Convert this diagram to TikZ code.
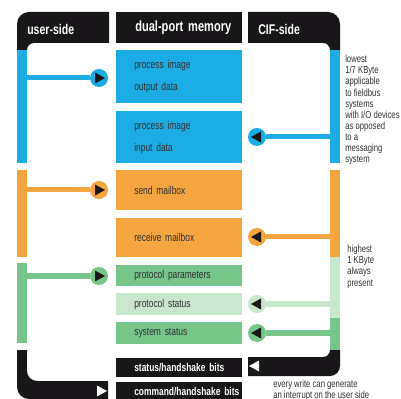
\documentclass[tikz,border=0pt]{standalone}
\usepackage{fontspec}
\setmainfont{Liberation Sans}[FakeStretch=0.75]
\usetikzlibrary{positioning}
\definecolor{dpmblue}{RGB}{28,172,228}
\definecolor{dpmorange}{RGB}{245,165,64}
\definecolor{dpmgreen}{RGB}{118,198,138}
\definecolor{dpmlight}{RGB}{200,232,205}
\definecolor{dpmblack}{RGB}{24,22,24}
\definecolor{dpmtext}{RGB}{50,48,50}

\begin{document}
\begin{tikzpicture}[
        x=0.025cm, y=-0.025cm,
        mem/.style={rectangle, anchor=north west, text width=3.15cm, inner xsep=0pt, inner ysep=0pt, align=left, execute at begin node={\leftskip=0.45cm}, font=\fontsize{8}{15.6}\selectfont, text=dpmtext},
        bits/.style={mem, fill=dpmblack, text=white, font=\fontsize{8}{10}\selectfont\bfseries, execute at begin node={\leftskip=0.45cm\rightskip=-1cm plus 1fil}},
        head/.style={font=\fontsize{10}{12}\selectfont\bfseries, text=white, inner sep=0pt, anchor=west},
        bar/.style={rectangle, minimum width=0.25cm, inner sep=0pt, anchor=north},
        port/.style={circle, minimum size=0.45cm, inner sep=0pt},
        link/.style={line width=0.125cm},
        note/.style={align=left, font=\fontsize{7.3}{7.9}\selectfont, inner sep=0pt, anchor=north west, text=dpmtext},
        tipright/.style={insert path={++(-4,-5.5) -- ++(10,5.5) -- ++(-10,5.5) -- cycle}},
        tipleft/.style={insert path={++(4,-5.5) -- ++(-10,5.5) -- ++(10,5.5) -- cycle}}
    ]
        \useasboundingbox (0,0) rectangle (401,399);

        % Headers
        \fill[dpmblack] (17,50) -- (17,24) arc[start angle=180, end angle=90, radius=0.3cm] -- (109,12) -- (109,43) -- (34,43) arc[start angle=90, end angle=180, radius=0.175cm] -- cycle;
        \fill[dpmblack] (248,12) -- (328,12) arc[start angle=90, end angle=0, radius=0.3cm] -- (340,50) -- (330,50) arc[start angle=0, end angle=90, radius=0.175cm] -- (248,43) -- cycle;
        \node[head] (huser) at (27,29) {user-side};
        \node[mem, head, fill=dpmblack, anchor=north west, text width=3.15cm, inner xsep=0pt, minimum height=0.775cm, font=\fontsize{10.5}{12}\selectfont\bfseries, execute at begin node={\leftskip=0.475cm}] (hmem) at (116,12) {dual-port memory};
        \node[head] (hcif) at (258,29) {CIF-side};

        % Memory Areas
        \node[mem, fill=dpmblue, minimum height=1.325cm] (pio) at (116,50) {process image\\output data};
        \node[mem, fill=dpmblue, minimum height=1.3cm] (pii) at (116,111) {process image\\input data};
        \node[mem, fill=dpmorange, minimum height=1.0cm] (send) at (116,170) {send mailbox};
        \node[mem, fill=dpmorange, minimum height=0.975cm] (recv) at (116,218) {receive mailbox};
        \node[mem, fill=dpmgreen, minimum height=0.525cm] (ppar) at (116,265) {protocol parameters};
        \node[mem, fill=dpmlight, minimum height=0.55cm] (pstat) at (116,293) {protocol status};
        \node[mem, fill=dpmgreen, minimum height=0.55cm] (sstat) at (116,322) {system status};
        \node[bits, minimum height=0.475cm] (shs) at (116,358) {status/handshake bits};
        \node[bits, minimum height=0.45cm] (chs) at (116,382) {command/handshake bits};

        % User-side bar
        \node[bar, fill=dpmblue, minimum height=2.825cm] (ublue) at (22,50) {};
        \node[bar, fill=dpmorange, minimum height=2.175cm] (uorange) at (22,170) {};
        \node[bar, fill=dpmgreen, minimum height=2.0cm] (ugreen) at (22,263) {};
        \fill[dpmblack] (17,350) -- (17,387) arc[start angle=180, end angle=270, radius=0.3cm] -- (108,399) -- (108,381) -- (37,381) arc[start angle=270, end angle=180, radius=0.25cm] -- (27,350) -- cycle;

        % CIF-side bar
        \node[bar, fill=dpmblue, minimum height=2.825cm] (cblue) at (335,50) {};
        \node[bar, fill=dpmorange, minimum height=2.175cm] (corange) at (335,170) {};
        \node[bar, fill=dpmlight, minimum height=1.525cm] (clight) at (335,257) {};
        \node[bar, fill=dpmgreen, minimum height=0.8cm] (cgreen) at (335,318) {};
        \fill[dpmblack] (330,350) -- (340,350) -- (340,366) arc[start angle=0, end angle=-90, radius=0.25cm] -- (248,376) -- (248,357) -- (323,357) arc[start angle=-90, end angle=0, radius=0.175cm] -- cycle;

        % Ports
        \node[port, fill=dpmblue] (uout) at (99,78) {};
        \node[port, fill=dpmorange] (usend) at (99,190) {};
        \node[port, fill=dpmgreen] (upar) at (99,276) {};
        \node[port, fill=dpmblue] (cin) at (257,137) {};
        \node[port, fill=dpmorange] (crecv) at (257,237) {};
        \node[port, fill=dpmlight] (cpstat) at (257,304) {};
        \node[port, fill=dpmgreen] (csstat) at (257,333) {};
        \coordinate (ucmd) at (101,391);
        \coordinate (cstat) at (255,366);

        % Data Flows - user side
        \draw[link, dpmblue] (uout -| ublue.center) -- (uout);
        \draw[link, dpmorange] (usend -| uorange.center) -- (usend);
        \draw[link, dpmgreen] (upar -| ugreen.center) -- (upar);

        % Data Flows - CIF side
        \draw[link, dpmblue] (cin) -- (cin -| cblue.center);
        \draw[link, dpmorange] (crecv) -- (crecv -| corange.center);
        \draw[link, dpmlight] (cpstat) -- (cpstat -| clight.center);
        \draw[link, dpmgreen] (csstat) -- (csstat -| cgreen.center);

        % Arrow tips
        \fill[dpmblack] (uout.center) [tipright];
        \fill[dpmblack] (usend.center) [tipright];
        \fill[dpmblack] (upar.center) [tipright];
        \fill[dpmblack] (cin.center) [tipleft];
        \fill[dpmblack] (crecv.center) [tipleft];
        \fill[dpmblack] (cpstat.center) [tipleft];
        \fill[dpmblack] (csstat.center) [tipleft];
        \fill[white] (ucmd) [tipright];
        \fill[white] (cstat) [tipleft];

        % Notes
        \node[note] (lowtxt) at (345,55) {lowest\\1/7 KByte\\applicable\\to fieldbus\\systems\\with I/O devices\\as opposed\\to a\\messaging\\system};
        \node[note] (hightxt) at (347,245) {highest\\1 KByte\\always\\present};
        \node[note] (irqtxt) at (273,380) {every write can generate\\an interrupt on the user side};
    \end{tikzpicture}
\end{document}
